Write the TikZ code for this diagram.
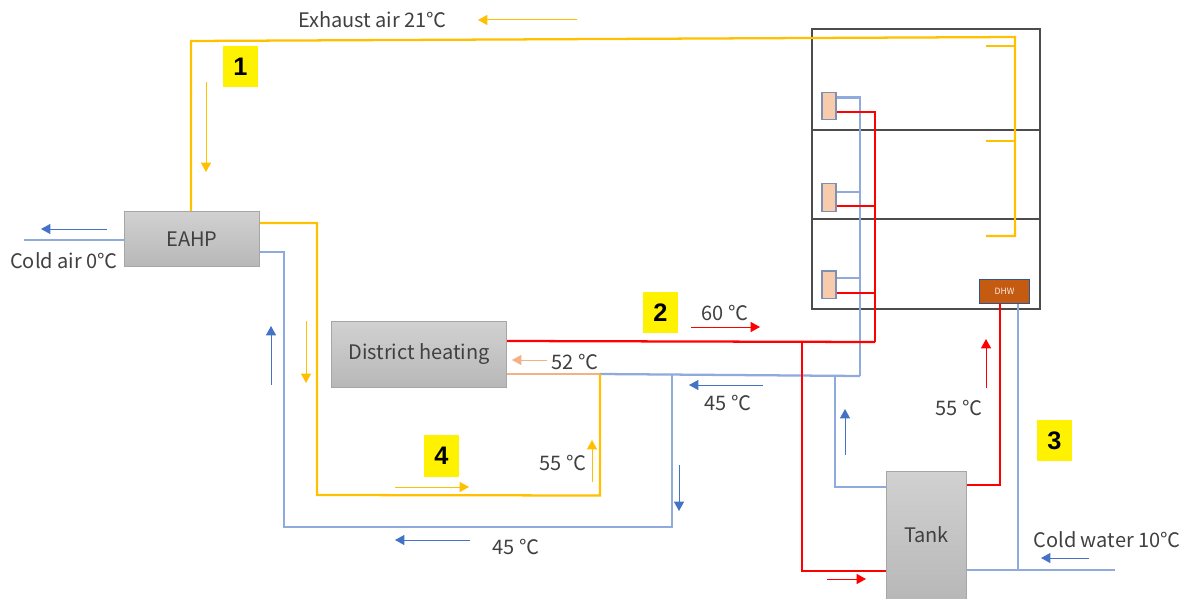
\documentclass[tikz,border=0pt]{standalone}
\usepackage{fontspec}
\setmainfont{Noto Sans CJK SC}
\newfontfamily\numfont[Ligatures=TeX]{Liberation Sans}
\usetikzlibrary{arrows.meta,calc}
\definecolor{pipeY}{HTML}{FFC000}
\definecolor{pipeB}{HTML}{8FAADC}
\definecolor{flowB}{HTML}{4472C4}
\definecolor{pipeR}{HTML}{FF0000}
\definecolor{pipeS}{HTML}{F4B183}
\definecolor{txt}{HTML}{404040}
\definecolor{radfill}{HTML}{F8CBAD}
\definecolor{radline}{HTML}{7F90B5}
\definecolor{dhwfill}{HTML}{C55A11}
\definecolor{dhwline}{HTML}{2F5597}
\tikzset{
  plant/.style={draw=black!35,line width=.75pt,top color=black!18,bottom color=black!28,text=txt,inner sep=0pt,font=\fontsize{15}{17}\selectfont},
  room/.style={draw=black!70,line width=.85pt,inner sep=0pt},
  radiator/.style={draw=radline,line width=1pt,fill=radfill,inner sep=0pt,minimum width=10.5pt,minimum height=20.5pt},
  dhwbox/.style={draw=dhwline,line width=.75pt,fill=dhwfill,text=white!90!dhwfill,inner sep=0pt,font=\fontsize{6.5}{7}\selectfont},
  tag/.style={fill=yellow,inner sep=0pt,minimum width=26pt,minimum height=31pt,font=\numfont\bfseries\fontsize{19}{21}\selectfont},
  lab/.style={text=txt,inner sep=0pt,font=\fontsize{15}{17}\selectfont},
  pipe/.style={line width=1.7pt,line join=miter},
  flowarrow/.style={line width=.75pt,-{Triangle[length=7pt,width=7.5pt]}}
}
% \flow{colour}{name}{start}{end}: a flow-direction arrow between two named coordinates
\newcommand{\flow}[4]{\coordinate (#2s) at (#3);\coordinate (#2e) at (#4);\draw[flowarrow,#1] (#2s) -- (#2e);}
\begin{document}
\begin{tikzpicture}[x=.75pt,y=-.75pt]
\useasboundingbox (0,0) rectangle (1188,599);
% building
\node[room,minimum width=171pt,minimum height=75.75pt] (f1) at (926,79.5) {};
\node[room,minimum width=171pt,minimum height=67pt] (f2) at (926,174.5) {};
\node[room,minimum width=171pt,minimum height=67.5pt] (f3) at (926,264) {};
% plant
\node[plant,minimum width=101.5pt,minimum height=41.5pt] (eahp) at (192,239) {EAHP};
\node[plant,minimum width=131.5pt,minimum height=50pt] (dh) at (419,354.5) {District heating};
\node[plant,minimum width=60.25pt,minimum height=96pt] (tank) at (926.5,535) {Tank};
\node[dhwbox,minimum width=38pt,minimum height=18.5pt] (dhw) at (1004.5,291.5) {DHW};
\node[radiator] (r1) at (829,106) {};
\node[radiator] (r2) at (829,197.5) {};
\node[radiator] (r3) at (829,284.5) {};
% junctions
\coordinate (y1) at (191,41);
\coordinate (y2) at (1015,37);
\coordinate (y3) at (1015,236);
\coordinate (y4) at (986,236);
\coordinate (s1a) at (986,46);\coordinate (s1b) at (1015,46);
\coordinate (s2a) at (986,141);\coordinate (s2b) at (1015,141);
\coordinate (jDHr) at (875,342);
\coordinate (jTr) at (802,341.5);
\coordinate (jDHs) at (600,374);
\coordinate (jB) at (860,376);
\coordinate (jE) at (672,375);
\coordinate (jT) at (835,376);
\coordinate (ca) at (24,240);
\coordinate (cw) at (1115,570);
\coordinate (cwj) at (1018,570);
% cold air
\draw[pipe,pipeB] (ca) -- (ca-|eahp.west);
% exhaust air duct
\draw[pipe,pipeY] (eahp.north-|y1) -- (y1) -- (y2) -- (y3) -- (y4);
\draw[pipe,pipeY] (s1a) -- (s1b);
\draw[pipe,pipeY] (s2a) -- (s2b);
% condenser loops
\draw[pipe,pipeB] (jE) -- (672,527) -- (284,527) -- (284,252) -- (eahp.east|-0,252);
\draw[pipe,pipeB] (jDHs) -- (jB);
\draw[pipe,pipeS] (dh.east|-jDHs) -- (jDHs);
\draw[pipe,pipeY] (jDHs) -- (600,495.5) -- (317,495) -- (317,223) -- (eahp.east|-0,223);
% risers and radiators
\draw[pipe,pipeB] (r1.east|-0,97.5) -- (860,97.5) -- (jB);
\draw[pipe,pipeB] (r2.east|-0,192) -- (860,192);
\draw[pipe,pipeB] (r3.east|-0,278) -- (860,278);
\draw[pipe,pipeR] (r1.east|-0,112) -- (875,112) -- (jDHr);
\draw[pipe,pipeR] (r2.east|-0,206) -- (875,206);
\draw[pipe,pipeR] (r3.east|-0,293) -- (875,293);
\draw[pipe,pipeR] (dh.east|-0,341) -- (jDHr);
% tank circuits
\draw[pipe,pipeR] (jTr) -- (802,571) -- (tank.west|-0,571);
\draw[pipe,pipeB] (jT) -- (835,487) -- (tank.west|-0,487);
\draw[pipe,pipeR] (tank.east|-0,485) -- (1000,485) -- (dhw.south-|1000,0);
\draw[pipe,pipeB] (tank.east|-cw) -- (cw);
\draw[pipe,pipeB] (cwj) -- (dhw.south-|cwj);
% flow arrows
\flow{pipeY}{a}{577,20}{478,20}
\flow{pipeY}{b}{206,82}{206,172}
\flow{flowB}{c}{107,229}{41,229}
\flow{flowB}{d}{271,385}{271,326}
\flow{pipeY}{e}{306,321}{306,383}
\flow{pipeS}{f}{547,360}{512,360}
\flow{pipeR}{g}{691,327}{760,327}
\flow{flowB}{h}{763,385}{689,385}
\flow{flowB}{i}{679,465}{679,511}
\flow{flowB}{j}{845,455}{845,409}
\flow{pipeR}{k}{986,388}{986,339}
\flow{pipeY}{l}{592,482}{592,440}
\flow{pipeY}{m}{395,487}{469,487}
\flow{flowB}{n}{470,540}{395,540}
\flow{pipeR}{o}{827,579}{866,579}
\flow{flowB}{p}{1089,558}{1041,558}
% tags
\node[tag] (t1) at (240.5,66.5) {1};
\node[tag] (t2) at (660.5,312.5) {2};
\node[tag] (t3) at (1054.5,440.5) {3};
\node[tag] (t4) at (441.5,456) {4};
% labels
\node[lab] (l1) at (372.5,20) {Exhaust air 21℃};
\node[lab] (l2) at (64,261) {Cold air 0℃};
\node[lab] (l3) at (725,313) {60 ℃};
\node[lab] (l4) at (575,362) {52 ℃};
\node[lab] (l5) at (728,403) {45 ℃};
\node[lab] (l6) at (563,463) {55 ℃};
\node[lab] (l7) at (516,547) {45 ℃};
\node[lab] (l8) at (959,408) {55 ℃};
\node[lab] (l9) at (1107,540) {Cold water 10℃};
\end{tikzpicture}
\end{document}
